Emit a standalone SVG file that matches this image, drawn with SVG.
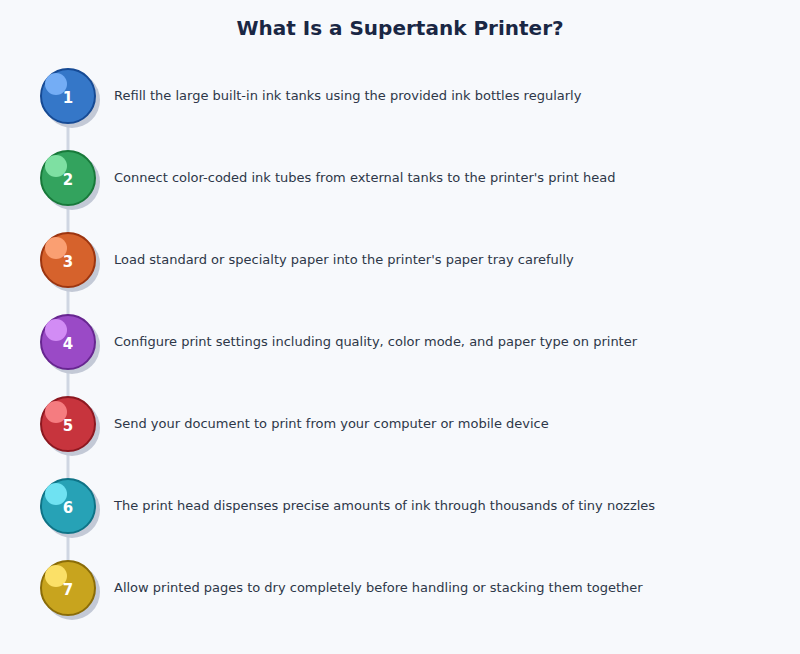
<svg xmlns="http://www.w3.org/2000/svg" width="800" height="654" viewBox="0 0 800 654">
<style>
.title{font-family:"DejaVu Sans",sans-serif;font-size:20px;font-weight:bold;fill:#1a2744}
.lbl{font-family:"DejaVu Sans",sans-serif;font-size:13px;fill:#2d3748}
.num{font-family:"DejaVu Sans",sans-serif;font-size:15px;font-weight:bold;fill:#ffffff}
.shadow{fill:#c3c9d6}
.conn{stroke:#cfd6e2;stroke-width:3;fill:none}
</style>
<rect width="800" height="654" fill="#f7f9fc"/>
<text class="title" x="400" y="35" text-anchor="middle">What Is a Supertank Printer?</text>
<g id="connectors">
<line class="conn" x1="68" y1="123" x2="68" y2="151"/>
<line class="conn" x1="68" y1="205" x2="68" y2="233"/>
<line class="conn" x1="68" y1="287" x2="68" y2="315"/>
<line class="conn" x1="68" y1="369" x2="68" y2="397"/>
<line class="conn" x1="68" y1="451" x2="68" y2="479"/>
<line class="conn" x1="68" y1="533" x2="68" y2="561"/>
</g>
<g id="step1">
<circle class="shadow" cx="72" cy="100" r="28"/>
<circle cx="68" cy="96" r="27" fill="#3577c8" stroke="#164a94" stroke-width="2"/>
<circle cx="56" cy="84" r="11" fill="#74adf5"/>
<text class="num" x="68" y="103" text-anchor="middle">1</text>
<text class="lbl" x="114" y="100">Refill the large built-in ink tanks using the provided ink bottles regularly</text>
</g>
<g id="step2">
<circle class="shadow" cx="72" cy="182" r="28"/>
<circle cx="68" cy="178" r="27" fill="#33a35e" stroke="#18793a" stroke-width="2"/>
<circle cx="56" cy="166" r="11" fill="#7ee0a2"/>
<text class="num" x="68" y="185" text-anchor="middle">2</text>
<text class="lbl" x="114" y="182">Connect color-coded ink tubes from external tanks to the printer's print head</text>
</g>
<g id="step3">
<circle class="shadow" cx="72" cy="264" r="28"/>
<circle cx="68" cy="260" r="27" fill="#d6622c" stroke="#9c3510" stroke-width="2"/>
<circle cx="56" cy="248" r="11" fill="#fa9f72"/>
<text class="num" x="68" y="267" text-anchor="middle">3</text>
<text class="lbl" x="114" y="264">Load standard or specialty paper into the printer's paper tray carefully</text>
</g>
<g id="step4">
<circle class="shadow" cx="72" cy="346" r="28"/>
<circle cx="68" cy="342" r="27" fill="#9a4ac6" stroke="#672690" stroke-width="2"/>
<circle cx="56" cy="330" r="11" fill="#d28cf5"/>
<text class="num" x="68" y="349" text-anchor="middle">4</text>
<text class="lbl" x="114" y="346">Configure print settings including quality, color mode, and paper type on printer</text>
</g>
<g id="step5">
<circle class="shadow" cx="72" cy="428" r="28"/>
<circle cx="68" cy="424" r="27" fill="#c7343d" stroke="#8c1820" stroke-width="2"/>
<circle cx="56" cy="412" r="11" fill="#f57c80"/>
<text class="num" x="68" y="431" text-anchor="middle">5</text>
<text class="lbl" x="114" y="428">Send your document to print from your computer or mobile device</text>
</g>
<g id="step6">
<circle class="shadow" cx="72" cy="510" r="28"/>
<circle cx="68" cy="506" r="27" fill="#27a2b6" stroke="#0f7386" stroke-width="2"/>
<circle cx="56" cy="494" r="11" fill="#6fe2f2"/>
<text class="num" x="68" y="513" text-anchor="middle">6</text>
<text class="lbl" x="114" y="510">The print head dispenses precise amounts of ink through thousands of tiny nozzles</text>
</g>
<g id="step7">
<circle class="shadow" cx="72" cy="592" r="28"/>
<circle cx="68" cy="588" r="27" fill="#c8a41e" stroke="#8a6c08" stroke-width="2"/>
<circle cx="56" cy="576" r="11" fill="#fbe067"/>
<text class="num" x="68" y="595" text-anchor="middle">7</text>
<text class="lbl" x="114" y="592">Allow printed pages to dry completely before handling or stacking them together</text>
</g>
</svg>
